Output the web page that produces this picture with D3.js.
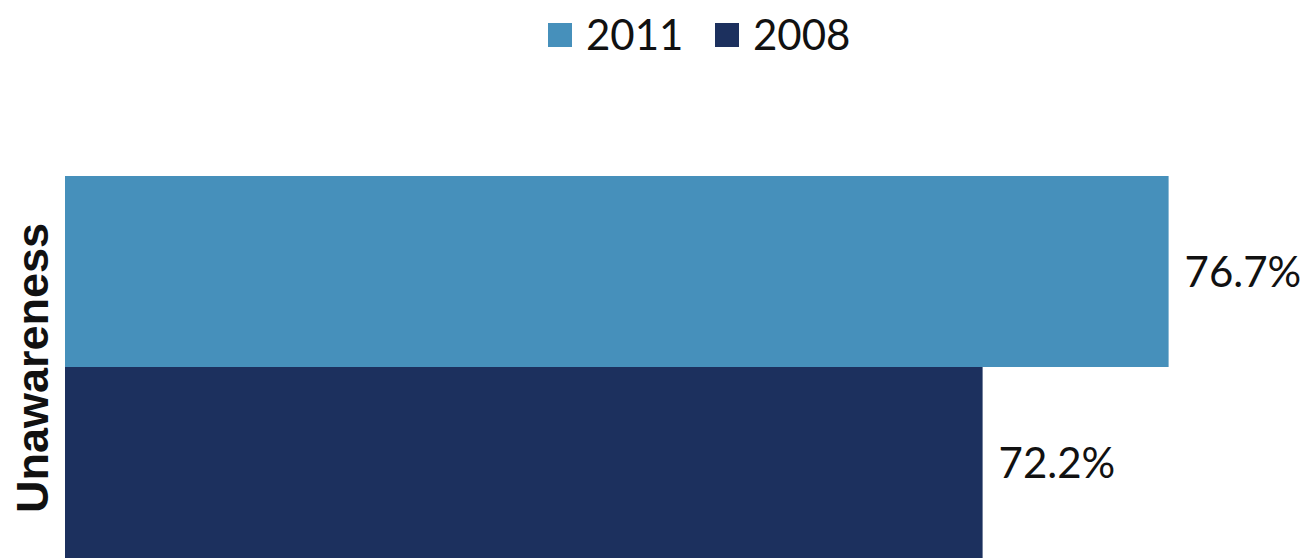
<!DOCTYPE html>
<html>
<head>
<meta charset="utf-8">
<script src="https://cdn.jsdelivr.net/npm/d3@7"></script>
<style>
  html, body { margin: 0; padding: 0; background: #fff; overflow: hidden; }
  svg { display: block; }
</style>
</head>
<body>
<div id="chart"></div>
<script>
// data
var categories = ["Unawareness"];
var seriesNames = ["2011", "2008"];
var values2011 = [76.7];
var values2008 = [72.2];
var seriesColors = ["#4690bb", "#1c305e"];

var svgWidth = 1306;
var svgHeight = 558;

var margin = { top: 176, right: 1, bottom: 0, left: 65 };

var width = svgWidth - margin.left - margin.right;
var height = svgHeight - margin.top - margin.bottom;

var svg = d3
  .select("#chart")
  .append("svg")
  .attr("width", svgWidth)
  .attr("height", svgHeight);

var chartGroup = svg
  .append("g")
  .attr("transform", `translate(${margin.left}, ${margin.top})`);

// axis starts at 50%
var xScale = d3.scaleLinear().domain([50, 80]).range([0, width]);

var yScale = d3.scaleBand().domain(categories).range([0, height]).padding(0);

var ySub = d3
  .scaleBand()
  .domain(seriesNames)
  .range([0, yScale.bandwidth()]);

var rows = [];
categories.forEach(function (c, i) {
  rows.push({ cat: c, series: "2011", value: values2011[i] });
  rows.push({ cat: c, series: "2008", value: values2008[i] });
});

var color = d3.scaleOrdinal().domain(seriesNames).range(seriesColors);

chartGroup
  .selectAll("rect.bar")
  .data(rows)
  .enter()
  .append("rect")
  .attr("class", "bar")
  .attr("x", 0)
  .attr("y", (d) => yScale(d.cat) + ySub(d.series))
  .attr("width", (d) => xScale(d.value))
  .attr("height", ySub.bandwidth())
  .attr("fill", (d) => color(d.series));

// value labels
chartGroup
  .selectAll("text.val")
  .data(rows)
  .enter()
  .append("text")
  .attr("class", "val")
  .attr("x", (d) => xScale(d.value) + 16)
  .attr("y", (d) => yScale(d.cat) + ySub(d.series) + ySub.bandwidth() / 2)
  .attr("dy", "0.36em")
  .style("font-family", "Lato, 'Open Sans', sans-serif")
  .style("font-size", "42px")
  .attr("fill", "#111")
  .text((d) => d.value.toFixed(1) + "%");

// category label
chartGroup
  .append("text")
  .attr("transform", "rotate(-90)")
  .attr("x", -(yScale(categories[0]) + yScale.bandwidth() / 2) - 1)
  .attr("y", -17)
  .style("text-anchor", "middle")
  .style("font-family", "'Liberation Sans', Arial, sans-serif")
  .style("font-weight", "bold")
  .style("font-size", "45px")
  .attr("fill", "#111")
  .text(categories[0]);

// legend
var legendItems = [
  { name: "2011", x: 548 },
  { name: "2008", x: 715 },
];

var legend = svg
  .selectAll("g.legend")
  .data(legendItems)
  .enter()
  .append("g")
  .attr("class", "legend")
  .attr("transform", (d) => `translate(${d.x}, 23)`);

legend
  .append("rect")
  .attr("width", 24)
  .attr("height", 24)
  .attr("fill", (d) => color(d.name));

legend
  .append("text")
  .attr("x", 38)
  .attr("y", 27)
  .style("font-family", "Lato, 'Open Sans', sans-serif")
  .style("font-size", "42px")
  .attr("fill", "#111")
  .text((d) => d.name);
</script>
</body>
</html>
